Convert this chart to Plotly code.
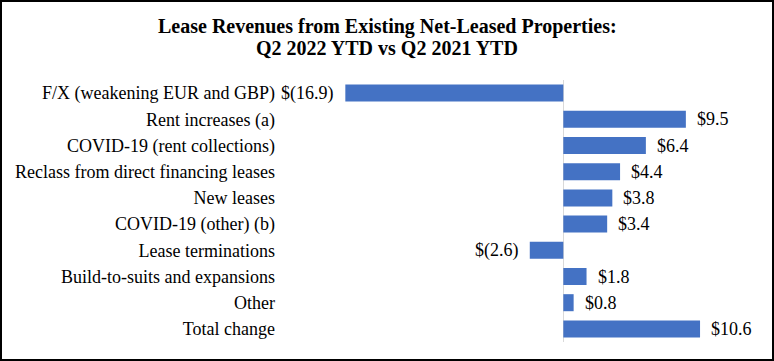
import plotly.graph_objects as go

categories = [
    "F/X (weakening EUR and GBP)",
    "Rent increases (a)",
    "COVID-19 (rent collections)",
    "Reclass from direct financing leases",
    "New leases",
    "COVID-19 (other) (b)",
    "Lease terminations",
    "Build-to-suits and expansions",
    "Other",
    "Total change",
]
values = [-16.9, 9.5, 6.4, 4.4, 3.8, 3.4, -2.6, 1.8, 0.8, 10.6]
value_labels = ["$(16.9)", "$9.5", "$6.4", "$4.4", "$3.8", "$3.4", "$(2.6)", "$1.8", "$0.8", "$10.6"]
title_lines = ["Lease Revenues from Existing Net-Leased Properties:", "Q2 2022 YTD vs Q2 2021 YTD"]

W, H = 774, 361
ML, MR, MT, MB = 286, 43, 80, 19
PW, PH = W - ML - MR, H - MT - MB

font_family = "serif"

fig = go.Figure(go.Bar(
    x=values, y=categories, orientation="h",
    marker=dict(color="#4472C4", line=dict(width=0)),
    width=0.65,
))

annotations = []
for c, v, t in zip(categories, values, value_labels):
    annotations.append(dict(
        x=v, y=c, xref="x", yref="y", text=t, showarrow=False,
        xanchor="left" if v >= 0 else "right",
        xshift=9 if v >= 0 else -9,
        font=dict(family=font_family, size=18, color="#000000"),
    ))

for line, ypx in zip(title_lines, [26, 48]):
    annotations.append(dict(
        x=(W / 2 - ML) / PW, y=(H - MB - ypx) / PH, xref="paper", yref="paper",
        text="<b>" + line + "</b>", showarrow=False,
        xanchor="center", yanchor="middle",
        font=dict(family=font_family, size=20, color="#000000"),
    ))

fig.update_layout(
    width=W, height=H,
    margin=dict(l=ML, r=MR, t=MT, b=MB, pad=0),
    paper_bgcolor="white", plot_bgcolor="white",
    showlegend=False,
    xaxis=dict(
        range=[-21.5, 13], showgrid=False, showticklabels=False, ticks="",
        zeroline=True, zerolinecolor="#D9D9D9", zerolinewidth=1, showline=False,
        fixedrange=True, automargin=False,
    ),
    yaxis=dict(
        categoryorder="array", categoryarray=categories, autorange="reversed",
        showgrid=False, zeroline=False, showline=False, ticks="",
        ticklabelstandoff=10, automargin=False,
        tickfont=dict(family=font_family, size=18, color="#000000"),
        fixedrange=True,
    ),
    annotations=annotations,
    shapes=[dict(
        type="rect", xref="paper", yref="paper",
        x0=(-ML + 1) / PW, x1=(W - ML - 1) / PW,
        y0=(-MB + 1) / PH, y1=(H - MB - 1) / PH,
        line=dict(color="#000000", width=2), fillcolor="rgba(0,0,0,0)",
        layer="below",
    )],
)

fig.write_html("out.html", config={"displayModeBar": False},
               post_script="document.body.style.margin='0';")
